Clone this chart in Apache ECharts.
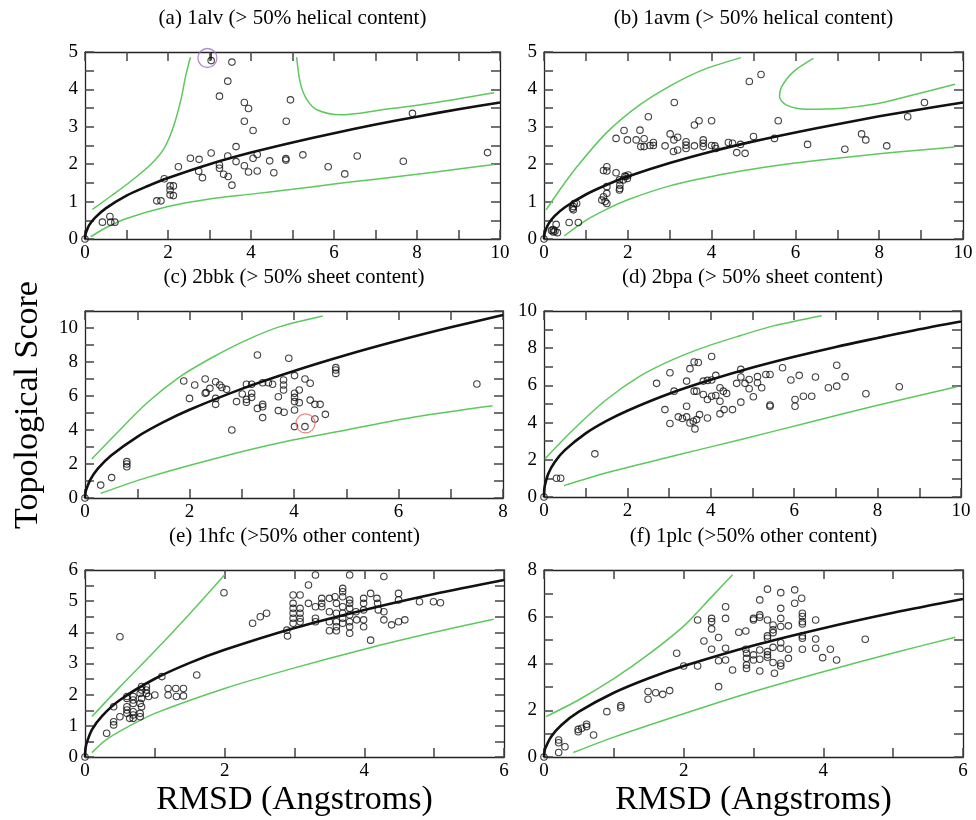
<!DOCTYPE html>
<html><head><meta charset="utf-8">
<script src="https://cdn.jsdelivr.net/npm/echarts@6/dist/echarts.min.js"></script>
<style>html,body{margin:0;padding:0;background:#fff}#c{width:976px;height:820px}</style>
</head><body><div id="c"></div>
<script>
// ---------- DATA ----------
const titles = [
  "(a) 1alv (> 50% helical content)",
  "(b) 1avm (> 50% helical content)",
  "(c) 2bbk (> 50% sheet content)",
  "(d) 2bpa (> 50% sheet content)",
  "(e) 1hfc (>50% other content)",
  "(f) 1plc (>50% other content)"
];
const yAxisName = "Topological Score";
const xAxisName = "RMSD (Angstroms)";

const ptsA = [[0,0],[0.42,0.45],[0.6,0.6],[0.62,0.45],[0.72,0.45],
 [1.73,1.02],[1.83,1.02],[1.91,1.61],[2.05,1.42],[2.13,1.42],[2.05,1.31],[2.05,1.18],[2.13,1.16],
 [2.25,1.93],[2.54,2.16],[2.75,2.13],[2.74,1.81],[2.83,1.64],[3.04,2.30],[3.04,4.77],[3.24,3.82],[3.24,1.98],[3.24,1.89],[3.34,1.73],
 [3.44,2.22],[3.44,4.22],[3.45,1.67],[3.54,4.73],[3.54,1.44],[3.64,2.47],[3.64,2.07],[3.84,3.65],[3.94,3.49],[3.84,3.15],[4.05,2.90],
 [3.84,1.96],[3.94,1.79],[4.05,2.16],[4.15,2.26],[4.15,1.82],[4.45,2.09],[4.55,1.77],[4.85,3.15],[4.95,3.72],[4.84,2.15],[4.84,2.11],
 [5.25,2.25],[5.86,1.93],[6.26,1.74],[6.56,2.22],[7.67,2.08],[7.89,3.36],[9.70,2.31]];
const fitA = [[0,0],[0.005,0.08],[0.02,0.16],[0.1,0.37],[0.25,0.58],[0.5,0.82],[1,1.16],[1.5,1.41],[2,1.63],[3,2.0],[4,2.31],[5,2.58],[6,2.83],[7,3.06],[8,3.27],[9,3.47],[10,3.65]];
const upA = [[0.18,0.79],[0.6,1.13],[1.02,1.47],[1.59,2.0],[1.91,2.43],[2.13,3.0],[2.31,3.72],[2.43,4.38],[2.54,4.86]];
const rightA = [[5.10,4.86],[5.19,4.16],[5.35,3.72],[5.6,3.45],[6.16,3.32],[7.13,3.45],[8.33,3.63],[9.86,3.91]];
const loA = [[0.14,0.06],[0.5,0.3],[1,0.55],[2,0.87],[3,1.07],[4,1.2],[5,1.33],[6,1.47],[7,1.6],[8,1.73],[9,1.87],[9.86,1.99]];
const circA = [[2.95,4.84]];
const stemA = [[3.04,4.77],[3.04,5.0]];

const ptsB = [[0,0],[0.29,0.39],[0.22,0.25],[0.26,0.21],[0.32,0.17],[0.18,0.23],[0.22,0.19],[0.6,0.44],[0.82,0.44],
 [0.7,0.78],[0.7,0.87],[0.72,0.95],[0.78,0.95],[0.68,0.82],
 [1.38,1.04],[1.42,1.13],[1.5,1.22],[1.5,1.4],[1.5,0.95],[1.46,1.0],[1.42,1.83],[1.5,1.93],[1.5,1.82],
 [1.72,1.77],[1.8,1.58],[1.81,1.44],[1.81,1.35],[1.8,1.31],[1.89,1.58],[1.96,1.67],[1.99,1.62],[2.01,1.71],[1.93,1.68],
 [1.72,2.69],[1.91,2.90],[1.99,2.65],[2.2,2.65],[2.29,2.91],[2.39,2.68],[2.31,2.47],[2.39,2.47],[2.49,3.27],
 [2.53,2.5],[2.61,2.58],[2.61,2.5],[2.89,2.49],[3.01,2.81],[3.11,3.65],[3.1,2.65],[3.19,2.72],[3.09,2.34],[3.19,2.38],
 [3.39,2.6],[3.39,2.51],[3.39,2.42],[3.59,2.49],[3.59,3.05],[3.7,3.16],[3.8,2.65],[3.8,2.56],[3.8,2.47],[4.0,3.16],[4.0,2.5],
 [4.08,2.49],[4.1,2.42],[4.4,2.58],[4.5,2.56],[4.6,2.31],[4.69,2.53],[4.8,2.29],[4.9,4.21],[5.0,2.74],[5.18,4.40],
 [5.5,2.69],[5.59,3.16],[6.29,2.53],[7.18,2.40],[7.58,2.81],[7.68,2.65],[8.18,2.49],[8.68,3.27],[9.08,3.65]];
const fitB = [[0,0],[0.005,0.09],[0.02,0.18],[0.1,0.39],[0.25,0.61],[0.5,0.85],[1,1.19],[1.5,1.45],[2,1.67],[3,2.03],[4,2.34],[5,2.61],[6,2.85],[7,3.07],[8,3.28],[9,3.47],[10,3.65]];
const upB = [[0.05,0.78],[0.4,1.35],[0.8,1.95],[1.5,2.85],[2.3,3.6],[3.1,4.15],[3.85,4.55],[4.7,4.85]];
const rightB = [[6.43,4.83],[5.95,4.47],[5.67,4.07],[5.62,3.81],[5.79,3.58],[6.27,3.47],[7.06,3.49],[7.86,3.6],[8.66,3.81],[9.81,4.14]];
const loB = [[0.48,0.08],[1,0.5],[1.5,0.8],[2,1.05],[3,1.42],[4,1.67],[5,1.87],[6,2.03],[7,2.16],[8,2.28],[9,2.38],[9.8,2.46]];

const ptsC = [[0,0],[0.30,0.76],[0.51,1.2],[0.8,2.14],[0.8,2.0],[0.8,1.84],
 [1.89,6.88],[2.0,5.86],[2.1,6.65],[2.3,7.0],[2.3,6.16],[2.39,6.45],[2.32,6.2],[2.5,6.84],[2.5,5.86],[2.5,5.51],
 [2.58,6.65],[2.62,6.5],[2.71,6.39],[2.81,4.0],[2.9,5.67],[3.01,6.12],[3.09,6.69],[3.19,6.69],[3.09,5.8],[3.09,5.63],
 [3.19,6.16],[3.19,5.92],[3.3,8.41],[3.3,5.27],[3.4,5.51],[3.4,5.37],[3.4,4.73],[3.4,6.78],[3.51,6.78],[3.59,6.69],
 [3.7,5.96],[3.7,5.14],[3.8,6.94],[3.8,6.65],[3.8,6.35],[3.81,5.04],[3.9,8.22],[4.01,7.2],[4.01,6.16],[4.01,5.92],
 [4.01,5.67],[4.01,5.18],[4.01,4.2],[4.1,6.35],[4.1,5.61],[4.21,7.0],[4.21,4.2],[4.31,6.75],[4.31,5.76],[4.4,5.51],
 [4.5,5.51],[4.4,4.65],[4.6,4.92],[4.8,7.67],[4.8,7.53],[4.8,7.33],[7.5,6.71]];
const fitC = [[0,0],[0.005,0.23],[0.02,0.46],[0.1,1.07],[0.25,1.74],[0.5,2.5],[1,3.6],[1.5,4.46],[2,5.19],[3,6.42],[4,7.47],[5,8.41],[6,9.26],[7,10.04],[8,10.77]];
const upC = [[0.13,2.29],[0.54,3.6],[1.18,5.57],[1.82,7.14],[2.46,8.31],[3.09,9.29],[3.73,10.08],[4.55,10.71]];
const loC = [[0.3,0.27],[1.18,1.2],[2.46,2.3],[3.73,3.25],[5.0,4.0],[6.28,4.75],[7.8,5.43]];
const circC = [[4.22,4.39]];

const ptsD = [[0,0],[0.3,1.01],[0.4,1.01],[1.22,2.32],[2.7,6.11],[2.9,4.7],[3.02,6.68],[3.02,3.95],[3.12,5.69],
 [3.22,4.31],[3.32,4.22],[3.42,4.31],[3.42,4.88],[3.42,6.23],[3.5,6.9],[3.6,7.26],[3.7,7.23],[3.5,3.98],[3.58,4.07],
 [3.66,4.16],[3.73,4.43],[3.62,3.66],[3.6,5.69],[3.66,5.69],[3.82,6.23],[3.92,6.27],[4.02,6.29],[3.82,5.51],[3.92,5.24],
 [3.92,4.25],[4.02,7.55],[4.02,5.42],[4.12,5.46],[4.12,6.54],[4.22,5.87],[4.3,5.69],[4.38,5.57],[4.22,5.15],[4.22,4.47],
 [4.32,4.7],[4.52,4.7],[4.62,6.11],[4.72,6.86],[4.72,5.1],[4.72,6.45],[4.82,6.11],[4.92,6.32],[4.92,5.82],[5.02,5.39],
 [5.12,6.47],[5.12,6.14],[5.22,5.87],[5.32,6.59],[5.42,6.59],[5.42,4.95],[5.42,4.88],[5.72,6.95],[5.92,6.29],[6.02,5.24],
 [6.02,4.88],[6.12,6.54],[6.22,5.42],[6.42,5.42],[6.51,6.45],[6.82,5.87],[7.02,7.08],[7.02,5.96],[7.22,6.47],[7.72,5.55],[8.52,5.93]];
const fitD = [[0,0],[0.005,0.33],[0.02,0.61],[0.1,1.24],[0.25,1.86],[0.5,2.52],[1,3.42],[1.5,4.09],[2,4.64],[3,5.55],[4,6.3],[5,6.96],[6,7.54],[7,8.07],[8,8.55],[9,9.02],[10,9.44]];
const upD = [[0.02,2.05],[0.7,3.62],[1.5,5.24],[2.3,6.5],[3.1,7.4],[3.9,8.1],[4.7,8.67],[5.5,9.2],[6.66,9.75]];
const loD = [[0.48,0.61],[1.5,1.3],[3.1,2.2],[4.7,3.08],[6.3,3.98],[7.9,4.88],[9.9,5.93]];

const ptsE = [[0,0],[0.31,0.76],[0.41,1.03],[0.41,1.13],[0.41,1.61],[0.50,3.86],[0.50,1.29],[0.60,1.40],[0.60,1.51],[0.60,1.61],
 [0.60,1.88],[0.60,1.94],[0.64,1.24],[0.69,1.24],[0.69,1.35],[0.69,1.45],[0.69,1.72],[0.69,1.83],[0.69,1.94],[0.79,1.29],
 [0.79,1.40],[0.81,1.61],[0.79,1.72],[0.81,1.88],[0.79,2.04],[0.81,2.15],[0.81,2.26],[0.88,2.26],[0.88,2.15],[0.88,2.04],
 [0.91,1.94],[1.00,1.99],[1.10,2.58],[1.19,2.20],[1.19,1.99],[1.30,2.20],[1.31,1.94],[1.41,2.20],[1.41,1.96],[1.60,2.63],
 [1.99,5.27],[2.40,4.29],[2.51,4.50],[2.60,4.61],[2.89,4.07],[2.90,3.88],[2.98,5.20],[3.08,5.20],[2.98,4.93],[2.98,4.77],
 [2.98,4.61],[2.98,4.45],[2.98,4.29],[3.08,4.77],[3.08,4.61],[3.08,4.45],[3.08,4.34],[3.20,5.52],[3.20,4.93],[3.30,5.84],
 [3.30,4.82],[3.30,4.45],[3.30,4.34],[3.39,5.09],[3.39,4.93],[3.39,4.82],[3.50,5.09],[3.50,4.66],[3.50,4.34],[3.50,4.05],
 [3.58,5.14],[3.60,4.93],[3.60,4.61],[3.60,4.34],[3.60,4.05],[3.60,4.18],[3.69,5.41],[3.69,5.30],[3.69,5.14],[3.69,4.82],
 [3.69,4.61],[3.69,4.45],[3.69,4.29],[3.79,5.84],[3.79,5.04],[3.79,4.93],[3.79,4.77],[3.79,4.56],[3.79,4.34],[3.79,4.18],
 [3.79,3.97],[3.88,4.66],[3.89,4.40],[3.99,5.09],[3.99,4.93],[3.99,4.72],[3.99,4.40],[3.99,4.18],[4.09,5.25],[4.09,3.75],
 [4.18,5.09],[4.19,4.93],[4.20,4.72],[4.28,5.79],[4.28,4.66],[4.28,4.40],[4.39,4.24],[4.49,5.25],[4.49,5.04],[4.49,4.34],
 [4.58,4.40],[4.79,4.98],[4.99,4.98],[5.09,4.95]];
const fitE = [[0,0],[0.005,0.22],[0.02,0.42],[0.1,0.88],[0.25,1.33],[0.5,1.83],[1,2.51],[1.5,3.02],[2,3.44],[3,4.14],[4,4.72],[5,5.23],[6,5.68]];
const upE = [[0.1,1.3],[0.5,2.25],[1.0,3.4],[1.5,4.6],[2.0,5.85]];
const loE = [[0.1,0.14],[0.3,0.55],[0.6,0.95],[1,1.4],[2,2.2],[3,2.86],[4,3.46],[5,4.0],[5.85,4.42]];

const ptsF = [[0,0],[0.21,0.19],[0.21,0.61],[0.21,0.73],[0.30,0.44],[0.49,1.18],[0.49,1.08],[0.54,1.23],[0.61,1.30],[0.61,1.40],
 [0.71,0.94],[0.90,1.94],[1.10,2.20],[1.10,2.11],[1.49,2.80],[1.49,2.47],[1.60,2.75],[1.70,2.68],[1.80,2.84],[1.90,4.44],
 [2.00,3.89],[2.20,5.86],[2.20,3.89],[2.29,4.96],[2.40,5.93],[2.40,5.79],[2.40,5.48],[2.40,4.61],[2.50,3.01],[2.50,5.11],
 [2.50,4.12],[2.60,6.43],[2.60,5.93],[2.60,4.65],[2.60,4.15],[2.70,3.72],[2.79,5.34],[2.89,5.39],[2.89,4.61],[2.90,4.44],
 [2.90,4.22],[2.90,3.94],[2.90,3.79],[3.0,5.93],[3.0,5.86],[3.0,4.37],[3.0,4.15],[3.09,6.72],[3.09,6.08],[3.09,5.98],
 [3.09,4.58],[3.09,4.18],[3.09,3.68],[3.20,7.18],[3.20,5.86],[3.20,5.18],[3.20,5.08],[3.20,4.51],[3.20,4.37],[3.20,4.27],
 [3.28,5.65],[3.28,5.44],[3.28,5.32],[3.28,4.69],[3.28,4.04],[3.30,3.58],[3.39,7.03],[3.39,6.36],[3.39,5.93],[3.39,5.58],
 [3.39,4.89],[3.39,4.65],[3.39,4.01],[3.39,3.89],[3.50,5.61],[3.50,4.61],[3.50,4.22],[3.59,7.15],[3.59,6.58],[3.69,6.79],
 [3.70,6.15],[3.70,6.01],[3.70,5.79],[3.70,5.69],[3.70,5.18],[3.70,5.08],[3.70,4.61],[3.89,5.86],[3.89,5.05],[3.89,4.65],
 [3.99,4.25],[4.10,4.61],[4.19,4.15],[4.60,5.04]];
const fitF = [[0,0],[0.005,0.19],[0.02,0.38],[0.1,0.86],[0.25,1.37],[0.5,1.94],[1,2.75],[1.5,3.37],[2,3.89],[3,4.77],[4,5.51],[5,6.17],[6,6.76]];
const upF = [[0.03,1.73],[0.5,2.45],[1.0,3.35],[1.5,4.4],[2.0,5.6],[2.4,6.85],[2.7,7.8]];
const loF = [[0.42,0.19],[1,0.85],[2,1.85],[3,2.8],[4,3.65],[5,4.45],[5.89,5.12]];

// axis ranges: [xMax, xStep, xLabelEvery, yMax, yStep, yLabelEvery]
const axesA = [10, 1, 2, 5, 0.5, 1];
const axesB = [10, 1, 2, 5, 0.5, 1];
const axesC = [8, 1, 2, 11, 1, 2];
const axesD = [10, 1, 2, 10, 1, 2];
const axesE = [6, 1, 2, 6, 0.5, 1];
const axesF = [6, 1, 2, 8, 1, 2];

// ---------- LAYOUT ----------
const FONT = '"Liberation Serif","Times New Roman",serif';
const grids = [
  {left:85, top:52, width:415, height:187},
  {left:544, top:52, width:419, height:187},
  {left:85, top:311, width:418, height:187},
  {left:544, top:311, width:417, height:186},
  {left:85, top:570, width:419, height:187},
  {left:544, top:570, width:419, height:187}
];
const panels = [
  {pts:ptsA, fit:fitA, greens:[upA, loA], branch:rightA, axes:axesA, circ:circA, circColor:'#9b72c9', stem:stemA},
  {pts:ptsB, fit:fitB, greens:[upB, loB], branch:rightB, axes:axesB},
  {pts:ptsC, fit:fitC, greens:[upC, loC], axes:axesC, circ:circC, circColor:'#e86a6a'},
  {pts:ptsD, fit:fitD, greens:[upD, loD], axes:axesD},
  {pts:ptsE, fit:fitE, greens:[upE, loE], axes:axesE},
  {pts:ptsF, fit:fitF, greens:[upF, loF], axes:axesF}
];

const GREEN = '#5cc95c';
const lineStyleAx = {color:'#222', width:1.3};
const tickStyle = {color:'#444', width:1.5};
function fmt(every){
  return function(v){
    const r = v/every;
    return Math.abs(r - Math.round(r)) < 1e-6 ? String(Math.round(v*100)/100) : '';
  };
}

const xAxis = [], yAxis = [], series = [], graphic = [];
panels.forEach((p, i) => {
  const [xMax, xStep, xEvery, yMax, yStep, yEvery] = p.axes;
  const baseX = {gridIndex:i, type:'value', min:0, max:xMax, interval:xStep,
    axisLine:{show:true, onZero:false, lineStyle:lineStyleAx},
    axisTick:{show:true, inside:true, length:9, lineStyle:tickStyle},
    splitLine:{show:false}};
  const baseY = {gridIndex:i, type:'value', min:0, max:yMax, interval:yStep,
    axisLine:{show:true, onZero:false, lineStyle:lineStyleAx},
    axisTick:{show:true, inside:true, length:9, lineStyle:tickStyle},
    splitLine:{show:false}};
  xAxis.push(Object.assign({}, baseX, {position:'bottom',
    axisLabel:{show:true, formatter:fmt(xEvery), fontFamily:FONT, fontSize:19, color:'#000', margin:5}}));
  xAxis.push(Object.assign({}, baseX, {position:'top', axisLabel:{show:false}}));
  yAxis.push(Object.assign({}, baseY, {position:'left',
    axisLabel:{show:true, formatter:fmt(yEvery), fontFamily:FONT, fontSize:19, color:'#000', margin:7}}));
  yAxis.push(Object.assign({}, baseY, {position:'right', axisLabel:{show:false}}));
  const xi = 2*i, yi = 2*i;
  p.greens.forEach(g => series.push({type:'line', xAxisIndex:xi, yAxisIndex:yi, data:g, symbol:'none',
    smooth:0.3, lineStyle:{color:GREEN, width:1.5}, z:2, silent:true}));
  if (p.branch) series.push({type:'line', xAxisIndex:xi, yAxisIndex:yi, data:p.branch, symbol:'none',
    smooth:0.3, lineStyle:{color:GREEN, width:1.5}, z:2, silent:true});
  series.push({type:'scatter', xAxisIndex:xi, yAxisIndex:yi, data:p.pts, symbol:'circle', symbolSize:6.5,
    itemStyle:{color:'rgba(0,0,0,0)', borderColor:'#111', borderWidth:1.1}, z:3, silent:true});
  series.push({type:'line', xAxisIndex:xi, yAxisIndex:yi, data:p.fit, symbol:'none',
    smooth:0.3, lineStyle:{color:'#111', width:2.6}, z:4, silent:true});
  if (p.circ) series.push({type:'scatter', xAxisIndex:xi, yAxisIndex:yi, data:p.circ, symbol:'circle', symbolSize:19,
    itemStyle:{color:'rgba(0,0,0,0)', borderColor:p.circColor, borderWidth:1.3}, z:5, silent:true});
  if (p.stem) series.push({type:'line', xAxisIndex:xi, yAxisIndex:yi, data:p.stem, symbol:'none',
    lineStyle:{color:'#111', width:1.2}, z:5, silent:true});
  const g = grids[i];
  graphic.push({type:'text', x:g.left + g.width/2, y:g.top - 34,
    style:{text:titles[i], font:'21px '+FONT, fill:'#000', textAlign:'center', textVerticalAlign:'middle', align:'center', verticalAlign:'middle'}});
});
[0,1].forEach(c => {
  const g = grids[4+c];
  graphic.push({type:'text', x:g.left + g.width/2, y:800,
    style:{text:xAxisName, font:'34px '+FONT, fill:'#000', textAlign:'center', textVerticalAlign:'middle', align:'center', verticalAlign:'middle'}});
});
graphic.push({type:'text', x:28, y:405, rotation:Math.PI/2,
  style:{text:yAxisName, font:'34px '+FONT, fill:'#000', textAlign:'center', textVerticalAlign:'middle', align:'center', verticalAlign:'middle'}});

const chart = echarts.init(document.getElementById('c'), null, {renderer:'canvas'});
chart.setOption({
  animation:false,
  backgroundColor:'#fff',
  grid: grids.map(g => Object.assign({containLabel:false}, g)),
  xAxis, yAxis, series, graphic
});
</script></body></html>
